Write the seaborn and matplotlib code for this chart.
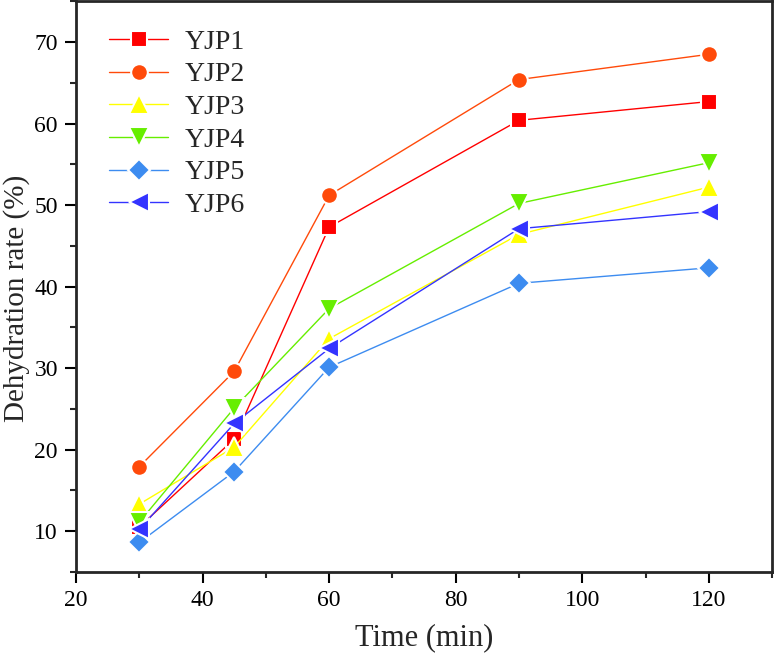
import numpy as np
import pandas as pd
import matplotlib
matplotlib.use("Agg")
import matplotlib.pyplot as plt
import seaborn as sns
from matplotlib.ticker import MultipleLocator

# Data
time_min = [30, 45, 60, 90, 120]
samples = ["YJP1", "YJP2", "YJP3", "YJP4", "YJP5", "YJP6"]
yjp1 = [10.5, 21.3, 47.3, 60.4, 62.7]
yjp2 = [17.9, 29.6, 51.2, 65.4, 68.5]
yjp3 = [13.3, 20.3, 33.6, 46.4, 52.2]
yjp4 = [11.1, 25.1, 37.3, 50.2, 55.2]
yjp5 = [8.6, 17.3, 30.1, 40.4, 42.3]
yjp6 = [10.2, 23.2, 32.4, 47.1, 49.2]

colors = ["#ff0000", "#ff4a0a", "#ffff00", "#66ee00", "#3d8cf0", "#3333ff"]
marker_list = ["s", "o", "^", "v", "D", "<"]
marker_sizes = [11.5, 12, 14, 14, 11, 14]

series = [yjp1, yjp2, yjp3, yjp4, yjp5, yjp6]
rows = []
for name, vals in zip(samples, series):
    for t, v in zip(time_min, vals):
        rows.append({"Time": t, "Rate": v, "Sample": name})
df = pd.DataFrame(rows)

sns.set_style("ticks")
plt.rcParams["font.family"] = ["Liberation Serif", "DejaVu Serif"]

fig = plt.figure(figsize=(7.76, 6.58), dpi=100)
ax = fig.add_axes([0.098, 0.131, 0.897, 0.867])

sns.lineplot(
    data=df, x="Time", y="Rate", hue="Sample", style="Sample",
    palette=dict(zip(samples, colors)),
    markers=dict(zip(samples, marker_list)),
    dashes=False, legend=False, ax=ax,
    linewidth=1.0, markeredgewidth=1.5, markeredgecolor="white",
)
for line, ms in zip(ax.lines, marker_sizes):
    line.set_markersize(ms)

ax.set_xlim(20, 130)
ax.set_ylim(5, 75)
ax.xaxis.set_major_locator(MultipleLocator(20))
ax.xaxis.set_minor_locator(MultipleLocator(10))
ax.yaxis.set_major_locator(MultipleLocator(10))
ax.yaxis.set_minor_locator(MultipleLocator(5))
ax.tick_params(which="major", direction="out", length=8, width=1.5, labelsize=17,
               colors="black", pad=5)
ax.tick_params(which="minor", direction="out", length=4, width=1.5)
for s in ax.spines.values():
    s.set_linewidth(2)
    s.set_visible(True)

ax.set_xlabel("Time (min)", fontsize=22, labelpad=9)
ax.set_ylabel("Dehydration rate (%)", fontsize=21)
ax.yaxis.set_label_coords(-0.066, 0.48)

ax.legend(ax.lines, samples, loc="upper left", bbox_to_anchor=(0.012, 0.995),
          frameon=False, fontsize=20, handlelength=2.1, labelspacing=0.26,
          handletextpad=0.6)

fig.savefig("out.png", dpi=100)
